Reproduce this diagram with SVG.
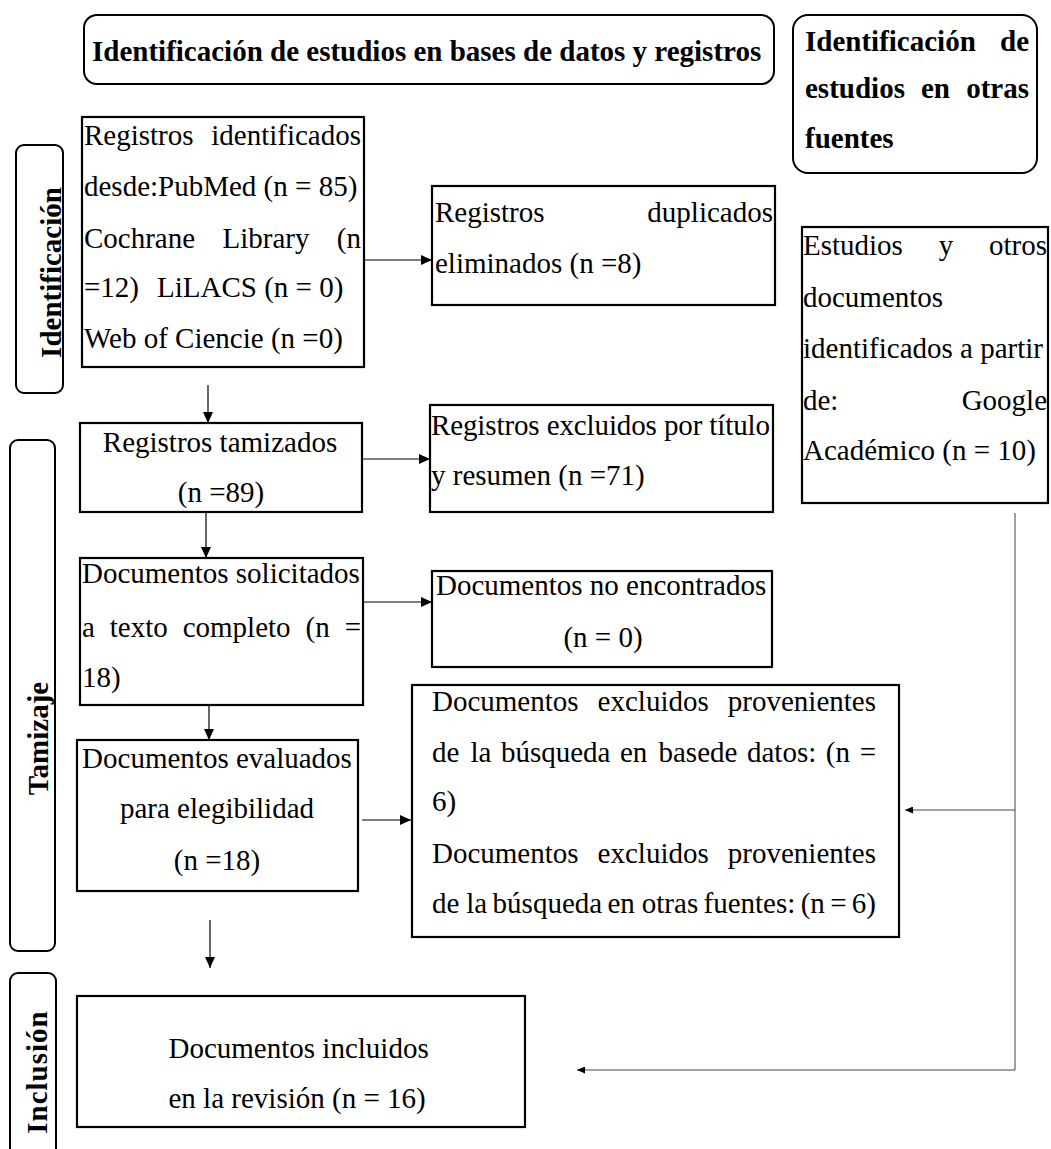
<svg xmlns="http://www.w3.org/2000/svg" width="1051" height="1149" viewBox="0 0 1051 1149">
<style>
.t{font-family:"Liberation Serif","Times New Roman",serif;font-size:29px;fill:#000}
.b{font-weight:bold}
.m{text-anchor:middle}
.e{text-anchor:end}
.box{fill:#fff;stroke:#000;stroke-width:2.2}
.rbox{fill:none;stroke:#000;stroke-width:2}
.conn{fill:none;stroke:#000;stroke-width:1.2}
.thin{fill:none;stroke:#444;stroke-width:1}
</style>
<defs>
<marker id="ah" markerUnits="userSpaceOnUse" markerWidth="11" markerHeight="10" refX="11" refY="5" orient="auto">
<path d="M0,0 L11,5 L0,10 z" fill="#000"/>
</marker>
<marker id="ahs" markerUnits="userSpaceOnUse" markerWidth="8" markerHeight="7" refX="8" refY="3.5" orient="auto">
<path d="M0,0 L8,3.5 L0,7 z" fill="#000"/>
</marker>
</defs>
<rect width="1051" height="1149" fill="#fff"/>

<g id="header-db">
<rect class="rbox" x="84" y="15" width="690" height="69" rx="13"/>
<text class="t b" x="92" y="61">Identificación de estudios en bases de datos y registros</text>
</g>

<g id="header-other">
<rect class="rbox" x="793" y="15" width="244" height="158" rx="15"/>
<text class="t b" y="51"><tspan x="805">Identificación</tspan><tspan x="1029" text-anchor="end">de</tspan></text>
<text class="t b" y="98"><tspan x="805">estudios</tspan><tspan x="921">en</tspan><tspan x="1029" text-anchor="end">otras</tspan></text>
<text class="t b" x="805" y="148">fuentes</text>
</g>

<g id="stage-identificacion">
<rect class="rbox" x="16" y="145" width="47" height="248" rx="8"/>
<text class="t b m" transform="translate(61,272.5) rotate(-90)">Identificación</text>
</g>

<g id="stage-tamizaje">
<rect class="rbox" x="10" y="440" width="45" height="511" rx="8"/>
<text class="t b m" transform="translate(48,738.5) rotate(-90)">Tamizaje</text>
</g>

<g id="stage-inclusion">
<rect class="rbox" x="10" y="973" width="46" height="200" rx="8"/>
<text class="t b m" letter-spacing="1" transform="translate(47,1072) rotate(-90)">Inclusión</text>
</g>

<g id="connectors">
<line class="conn" x1="364" y1="260" x2="432" y2="260" marker-end="url(#ah)"/>
<line class="conn" x1="208" y1="385" x2="208" y2="423" marker-end="url(#ah)"/>
<line class="conn" x1="362" y1="459" x2="430" y2="459" marker-end="url(#ah)"/>
<line class="conn" x1="206" y1="512" x2="206" y2="558" marker-end="url(#ah)"/>
<line class="conn" x1="363" y1="602" x2="432" y2="602" marker-end="url(#ah)"/>
<line class="conn" x1="209" y1="697" x2="209" y2="740" marker-end="url(#ah)"/>
<line class="conn" x1="362" y1="820" x2="411" y2="820" marker-end="url(#ah)"/>
<line class="conn" x1="210" y1="920" x2="210" y2="968" marker-end="url(#ah)"/>
<polyline class="thin" points="1015,513 1015,1070 577,1070" marker-end="url(#ahs)"/>
<line class="thin" x1="1015" y1="810" x2="905" y2="810" marker-end="url(#ahs)"/>
</g>

<g id="n-identificados">
<rect class="box" x="82" y="117" width="282" height="250"/>
<text class="t" y="145"><tspan x="84">Registros</tspan><tspan x="361" text-anchor="end">identificados</tspan></text>
<text class="t" x="84" y="196">desde:PubMed (n = 85)</text>
<text class="t" y="248"><tspan x="84">Cochrane</tspan><tspan x="222.5">Library</tspan><tspan x="361" text-anchor="end">(n</tspan></text>
<text class="t" y="297"><tspan x="84">=12)</tspan><tspan x="157">LiLACS (n = 0)</tspan></text>
<text class="t" x="84" y="348">Web of Ciencie (n =0)</text>
</g>

<g id="n-duplicados">
<rect class="box" x="432" y="186" width="343" height="119"/>
<text class="t" y="222"><tspan x="435">Registros</tspan><tspan x="773" text-anchor="end">duplicados</tspan></text>
<text class="t" x="435" y="273">eliminados (n =8)</text>
</g>

<g id="n-tamizados">
<rect class="box" x="80" y="423" width="282" height="89"/>
<text class="t m" x="220" y="452">Registros tamizados</text>
<text class="t m" x="221" y="502">(n =89)</text>
</g>

<g id="n-excluidos-titulo">
<rect class="box" x="430" y="405" width="343" height="107"/>
<text class="t" x="431" y="435" textLength="339" lengthAdjust="spacing">Registros excluidos por título</text>
<text class="t" x="431" y="485">y resumen (n =71)</text>
</g>

<g id="n-solicitados">
<rect class="box" x="80" y="558" width="283" height="147"/>
<text class="t" x="82" y="583">Documentos solicitados</text>
<text class="t" y="637"><tspan x="82">a</tspan><tspan x="109.8">texto</tspan><tspan x="182.7">completo</tspan><tspan x="305.5">(n</tspan><tspan x="361" text-anchor="end">=</tspan></text>
<text class="t" x="82" y="687">18)</text>
</g>

<g id="n-no-encontrados">
<rect class="box" x="432" y="571" width="340" height="96"/>
<text class="t" x="436" y="595">Documentos no encontrados</text>
<text class="t m" x="603" y="647">(n = 0)</text>
</g>

<g id="n-evaluados">
<rect class="box" x="77" y="740" width="281" height="151"/>
<text class="t m" x="217" y="768">Documentos evaluados</text>
<text class="t m" x="217" y="818">para elegibilidad</text>
<text class="t m" x="217" y="870">(n =18)</text>
</g>

<g id="n-excluidos-docs">
<rect class="box" x="412" y="685" width="487" height="252"/>
<text class="t" y="711"><tspan x="432">Documentos</tspan><tspan x="597.6">excluidos</tspan><tspan x="876" text-anchor="end">provenientes</tspan></text>
<text class="t" y="762"><tspan x="432">de</tspan><tspan x="470.5">la</tspan><tspan x="500.9">búsqueda</tspan><tspan x="620">en</tspan><tspan x="658.5">basede</tspan><tspan x="747">datos:</tspan><tspan x="825.8">(n</tspan><tspan x="876" text-anchor="end">=</tspan></text>
<text class="t" x="432" y="811">6)</text>
<text class="t" y="863"><tspan x="432">Documentos</tspan><tspan x="597.6">excluidos</tspan><tspan x="876" text-anchor="end">provenientes</tspan></text>
<text class="t" y="913"><tspan x="432">de</tspan><tspan x="466.3">la</tspan><tspan x="492.6">búsqueda</tspan><tspan x="607.4">en</tspan><tspan x="641.8">otras</tspan><tspan x="703.5">fuentes:</tspan><tspan x="800.7">(n</tspan><tspan x="830.2">=</tspan><tspan x="876" text-anchor="end">6)</tspan></text>
</g>

<g id="n-otras-fuentes">
<rect class="box" x="802" y="227" width="246" height="276"/>
<text class="t" y="255"><tspan x="803">Estudios</tspan><tspan x="938.7">y</tspan><tspan x="1047" text-anchor="end">otros</tspan></text>
<text class="t" x="803" y="307">documentos</text>
<text class="t" x="803" y="358">identificados a partir</text>
<text class="t" y="410"><tspan x="803">de:</tspan><tspan x="1047" text-anchor="end">Google</tspan></text>
<text class="t" x="803" y="460">Académico (n = 10)</text>
</g>

<g id="n-incluidos">
<rect class="box" x="77" y="996" width="448" height="131"/>
<text class="t" x="168.5" y="1058">Documentos incluidos</text>
<text class="t" x="168.5" y="1108">en la revisión (n = 16)</text>
</g>
</svg>
